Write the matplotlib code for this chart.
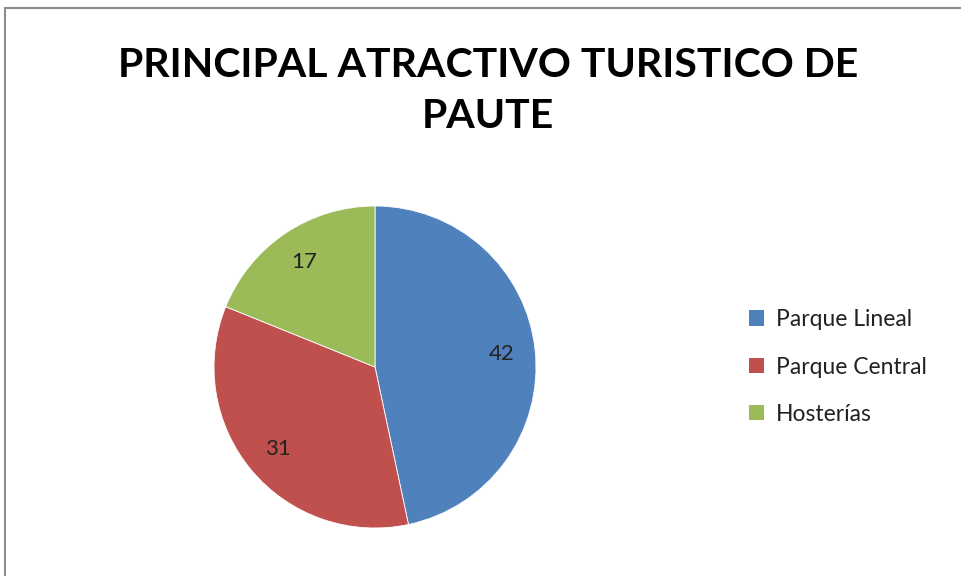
import matplotlib
matplotlib.use("Agg")
import matplotlib.pyplot as plt
from matplotlib.lines import Line2D
from matplotlib.patches import Patch

categories = ["Parque Lineal", "Parque Central", "Hosterías"]
values = [42, 31, 17]
colors = ["#4F81BD", "#C0504D", "#9BBB59"]
title = "PRINCIPAL ATRACTIVO TURISTICO DE\nPAUTE"

W, H = 961, 576
fig = plt.figure(figsize=(W / 100, H / 100), dpi=100)
fig.patch.set_facecolor("white")

# border (top and left visible)
fig.add_artist(Line2D([5 / W, 1], [1 - 8 / H, 1 - 8 / H], color="#8c8c8c", lw=1.5))
fig.add_artist(Line2D([5 / W, 5 / W], [0, 1 - 8 / H], color="#8c8c8c", lw=1.5))

cx, cy, r = 375, 367, 161
ax = fig.add_axes([(cx - r) / W, (H - cy - r) / H, 2 * r / W, 2 * r / H])
total = sum(values)
wedges, texts, autotexts = ax.pie(
    values, colors=colors, startangle=90, counterclock=False,
    autopct=lambda p: f"{round(p * total / 100):d}", pctdistance=0.79,
    wedgeprops=dict(edgecolor="white", linewidth=0.6),
    textprops=dict(fontsize=16, color="#222222", family="Lato"),
)
ax.set_xlim(-1, 1)
ax.set_ylim(-1, 1)
ax.set_aspect("equal")
ax.axis("off")

fig.text(488 / W, 1 - 91 / H, title, ha="center", va="center",
         fontsize=29.5, fontweight="bold", family="Lato", color="black",
         linespacing=1.45)

handles = [Patch(facecolor=c, edgecolor="none") for c in colors]
fig.legend(handles, categories, loc="center left",
           bbox_to_anchor=(728 / W, 1 - 367 / H), frameon=False,
           prop=dict(family="Lato", size=16.5), handlelength=0.65,
           handleheight=0.65, handletextpad=0.55, labelspacing=1.15,
           labelcolor="#222222")

fig.savefig("out.png", dpi=100)
